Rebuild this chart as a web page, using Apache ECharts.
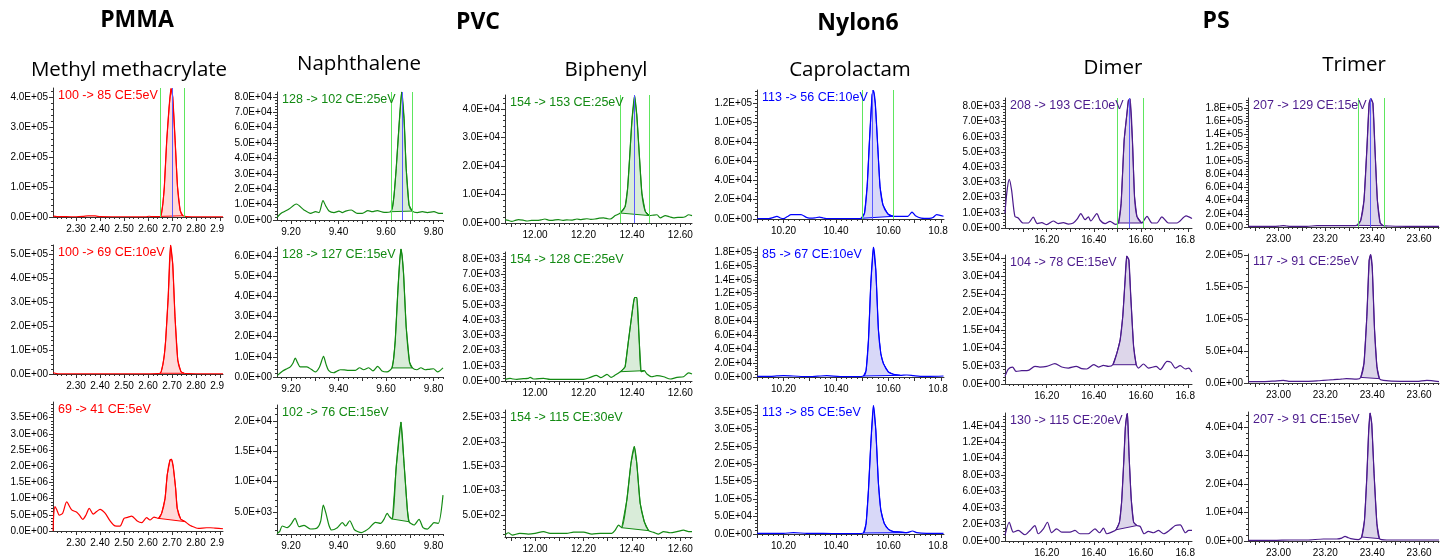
<!DOCTYPE html>
<html>
<head>
<meta charset="utf-8">
<title>MRM chromatograms</title>
<script src="https://cdn.jsdelivr.net/npm/echarts@6.0.0/dist/echarts.min.js"></script>
<style>
html,body{margin:0;padding:0;background:#fff;}
#chart{width:1448px;height:558px;}
</style>
</head>
<body>
<div id="chart"></div>
<script>
// ---- headings ----
var polymers = ['PMMA', 'PVC', 'Nylon6', 'PS'];
var compounds = ['Methyl methacrylate', 'Naphthalene', 'Biphenyl', 'Caprolactam', 'Dimer', 'Trimer'];
var transitions = [
    ['100 -> 85 CE:5eV', '100 -> 69 CE:10eV', '69 -> 41 CE:5eV'],
    ['128 -> 102 CE:25eV', '128 -> 127 CE:15eV', '102 -> 76 CE:15eV'],
    ['154 -> 153 CE:25eV', '154 -> 128 CE:25eV', '154 -> 115 CE:30eV'],
    ['113 -> 56 CE:10eV', '85 -> 67 CE:10eV', '113 -> 85 CE:5eV'],
    ['208 -> 193 CE:10eV', '104 -> 78 CE:15eV', '130 -> 115 CE:20eV'],
    ['207 -> 129 CE:15eV', '117 -> 91 CE:25eV', '207 -> 91 CE:15eV']
];

// ---- axes (retention time, intensity) ----
var xRange = [[2.204, 2.9125], [9.141, 9.84], [11.876, 12.648], [10.099, 10.812], [16.023, 16.817], [22.87, 23.685]];
var xLabels = [
    [2.3, 2.4, 2.5, 2.6, 2.7, 2.8, 2.9],
    [9.2, 9.4, 9.6, 9.8],
    [12.0, 12.2, 12.4, 12.6],
    [10.2, 10.4, 10.6, 10.8],
    [16.2, 16.4, 16.6, 16.8],
    [23.0, 23.2, 23.4, 23.6]
];
var yRange = [
    [[0, 4.3e5], [0, 5.4e5], [0, 3.98e6]],
    [[0, 8.32e4], [0, 6.45e4], [1393, 2.26e4]],
    [[0, 4.5e4], [0, 8480], [50, 2650]],
    [[0, 1.337e5], [0, 1.872e5], [0, 3.7e5]],
    [[0, 8560], [0, 35900], [0, 15560]],
    [[0, 1.95e5], [0, 2.02e5], [0, 4.53e4]]
];
var yLabels = [
    [[0, 1e5, 2e5, 3e5, 4e5], [0, 1e5, 2e5, 3e5, 4e5, 5e5], [0, 5e5, 1e6, 1.5e6, 2e6, 2.5e6, 3e6, 3.5e6]],
    [[0, 1e4, 2e4, 3e4, 4e4, 5e4, 6e4, 7e4, 8e4], [0, 1e4, 2e4, 3e4, 4e4, 5e4, 6e4], [5e3, 1e4, 1.5e4, 2e4]],
    [[0, 1e4, 2e4, 3e4, 4e4], [0, 1e3, 2e3, 3e3, 4e3, 5e3, 6e3, 7e3, 8e3], [500, 1000, 1500, 2000, 2500]],
    [[0, 2e4, 4e4, 6e4, 8e4, 1e5, 1.2e5], [0, 2e4, 4e4, 6e4, 8e4, 1e5, 1.2e5, 1.4e5, 1.6e5, 1.8e5], [0, 5e4, 1e5, 1.5e5, 2e5, 2.5e5, 3e5, 3.5e5]],
    [[0, 1e3, 2e3, 3e3, 4e3, 5e3, 6e3, 7e3, 8e3], [0, 5e3, 1e4, 1.5e4, 2e4, 2.5e4, 3e4, 3.5e4], [0, 2e3, 4e3, 6e3, 8e3, 1e4, 1.2e4, 1.4e4]],
    [[0, 2e4, 4e4, 6e4, 8e4, 1e5, 1.2e5, 1.4e5, 1.6e5, 1.8e5], [0, 5e4, 1e5, 1.5e5, 2e5], [0, 1e4, 2e4, 3e4, 4e4]]
];

// ---- chromatograms [time, intensity] ----
var p11 = [[2.205,3000],[2.22,1500],[2.26,1000],[2.30,800],[2.33,2000],[2.35,3500],[2.38,3500],[2.40,1200],[2.45,800],[2.50,800],[2.55,700],[2.59,900],[2.605,2500],[2.62,1000],[2.645,1200],[2.652,2000],[2.656,11000],[2.662,45000],[2.668,100000],[2.678,255000],[2.688,367000],[2.696,428000],[2.703,400000],[2.713,255000],[2.723,100000],[2.734,22000],[2.745,4000],[2.76,1500],[2.80,800],[2.85,600],[2.9125,500]];
var p21 = [[2.205,6000],[2.212,3000],[2.225,800],[2.26,600],[2.30,500],[2.35,600],[2.40,500],[2.45,500],[2.50,600],[2.55,500],[2.60,800],[2.64,1200],[2.65,3000],[2.655,10000],[2.662,40000],[2.668,80000],[2.6735,140000],[2.684,320000],[2.694,540000],[2.703,460000],[2.7125,240000],[2.724,58000],[2.737,10000],[2.75,3000],[2.77,1500],[2.80,1000],[2.85,800],[2.9125,800]];
var p31 = [[2.2045,0],[2.207,500000],[2.2124,750000],[2.22,650000],[2.23,490000],[2.2444,550000],[2.261,900000],[2.282,650000],[2.303,580000],[2.315,480000],[2.328,360000],[2.342,500000],[2.355,700000],[2.372,520000],[2.386,600000],[2.40,670000],[2.421,550000],[2.442,310000],[2.462,160000],[2.483,150000],[2.50,390000],[2.515,420000],[2.532,460000],[2.555,310000],[2.574,260000],[2.594,410000],[2.608,340000],[2.625,430000],[2.643,390000],[2.657,550000],[2.671,1000000],[2.68,1730000],[2.6915,2190000],[2.698,2210000],[2.705,1990000],[2.715,1320000],[2.7217,700000],[2.736,370000],[2.754,290000],[2.768,210000],[2.782,150000],[2.8095,80000],[2.844,100000],[2.86,100000],[2.879,90000],[2.9125,70000]];

var p12 = [[9.1415,1500],[9.1465,2600],[9.163,4800],[9.1916,7100],[9.2223,10400],[9.2547,6500],[9.2825,4300],[9.3036,5400],[9.3178,4800],[9.3347,12600],[9.3457,9300],[9.36,5800],[9.381,4800],[9.402,5800],[9.416,4800],[9.43,5800],[9.454,6500],[9.479,4300],[9.50,4300],[9.524,6100],[9.542,5400],[9.563,6100],[9.592,5000],[9.62,5400],[9.627,8000],[9.634,16200],[9.643,33500],[9.655,61700],[9.666,83300],[9.676,66000],[9.685,33500],[9.697,9700],[9.711,5800],[9.732,4800],[9.753,5400],[9.774,4800],[9.802,5400],[9.823,4300],[9.84,4300]];
var p22 = [[9.1415,800],[9.148,1300],[9.165,3000],[9.183,4100],[9.197,5000],[9.208,6800],[9.218,9400],[9.228,7000],[9.239,5000],[9.267,5000],[9.285,3800],[9.302,2500],[9.32,5000],[9.337,10200],[9.347,6500],[9.358,3300],[9.379,2100],[9.395,3000],[9.408,3600],[9.425,3500],[9.443,3300],[9.471,3300],[9.489,4600],[9.506,3600],[9.527,4600],[9.545,3000],[9.565,5300],[9.583,3000],[9.604,2500],[9.625,4500],[9.632,9000],[9.639,18200],[9.65,42900],[9.658,58000],[9.663,63500],[9.668,60000],[9.674,51200],[9.685,24800],[9.699,7400],[9.711,4500],[9.73,3600],[9.747,4600],[9.765,3600],[9.78,3800],[9.80,4100],[9.817,2500],[9.84,4500]];
var p32 = [[9.1415,1500],[9.152,1770],[9.163,2705],[9.184,2430],[9.2,3000],[9.217,3970],[9.234,2590],[9.255,2820],[9.2825,2213],[9.311,2430],[9.325,3500],[9.336,6150],[9.349,4510],[9.36,2800],[9.371,2050],[9.395,2430],[9.416,3250],[9.43,2705],[9.447,3570],[9.466,2160],[9.48,1800],[9.497,1610],[9.512,1900],[9.528,2320],[9.556,3310],[9.577,3150],[9.592,3850],[9.605,4780],[9.615,4230],[9.627,3850],[9.643,12430],[9.663,19800],[9.676,12980],[9.69,5330],[9.697,3410],[9.718,2870],[9.739,3800],[9.756,2430],[9.774,2210],[9.79,2800],[9.802,3250],[9.82,3150],[9.84,7790]];

var p13 = [[11.876,1200],[11.89,900],[11.904,600],[11.918,900],[11.931,1200],[11.95,1000],[11.966,700],[11.985,900],[12.007,900],[12.025,1100],[12.041,1400],[12.055,1000],[12.069,900],[12.083,1100],[12.096,1200],[12.115,900],[12.131,1100],[12.15,1000],[12.173,1400],[12.19,1200],[12.214,1500],[12.23,1300],[12.248,1400],[12.265,1700],[12.283,1800],[12.30,1500],[12.31,1400],[12.331,2600],[12.352,3500],[12.372,5800],[12.382,12000],[12.39,22200],[12.40,36000],[12.411,44700],[12.42,38000],[12.4275,28100],[12.441,10500],[12.455,4100],[12.473,2600],[12.49,2800],[12.5035,2900],[12.517,1800],[12.538,2600],[12.555,2200],[12.572,1800],[12.59,2000],[12.607,2000],[12.62,2200],[12.634,2900],[12.648,2600]];
var p23 = [[11.876,110],[11.897,175],[11.91,130],[11.925,110],[11.952,150],[11.97,170],[11.98,240],[11.99,150],[12.00,130],[12.035,175],[12.062,110],[12.104,110],[12.159,110],[12.20,110],[12.228,240],[12.253,370],[12.272,220],[12.297,440],[12.314,240],[12.331,390],[12.352,610],[12.365,800],[12.372,940],[12.386,2690],[12.404,4870],[12.411,5490],[12.42,5490],[12.43,2690],[12.438,610],[12.451,680],[12.462,460],[12.482,280],[12.503,350],[12.531,280],[12.558,130],[12.586,240],[12.613,280],[12.634,540],[12.648,460]];
var p33 = [[11.876,90],[11.89,137],[11.906,90],[11.937,125],[11.972,110],[12.00,125],[12.035,160],[12.062,125],[12.131,125],[12.159,150],[12.20,150],[12.235,110],[12.27,125],[12.317,125],[12.331,190],[12.345,295],[12.358,240],[12.379,807],[12.396,1560],[12.41,1900],[12.42,1560],[12.434,740],[12.451,363],[12.469,180],[12.49,145],[12.51,110],[12.531,160],[12.558,137],[12.586,160],[12.613,190],[12.634,160],[12.648,160]];

var p14 = [[10.1,300],[10.125,300],[10.143,300],[10.16,1500],[10.175,2800],[10.188,1000],[10.20,300],[10.215,2500],[10.229,4500],[10.25,4500],[10.267,4500],[10.285,2000],[10.299,1000],[10.32,1200],[10.337,2000],[10.352,1000],[10.369,300],[10.413,300],[10.464,300],[10.496,700],[10.509,6200],[10.519,33800],[10.528,82000],[10.538,128600],[10.543,133000],[10.55,120000],[10.56,72000],[10.568,33800],[10.579,14800],[10.598,5200],[10.619,2800],[10.648,2800],[10.674,2800],[10.69,7200],[10.703,3400],[10.725,1000],[10.756,700],[10.77,1500],[10.784,4500],[10.81,2800]];
var p24 = [[10.1,1000],[10.149,1000],[10.175,1500],[10.20,1900],[10.238,1450],[10.289,500],[10.33,1200],[10.365,1900],[10.416,500],[10.48,500],[10.505,1450],[10.515,9600],[10.524,53000],[10.533,135000],[10.543,187000],[10.552,154000],[10.562,67500],[10.571,33800],[10.581,19300],[10.60,7200],[10.619,3900],[10.645,2400],[10.67,2900],[10.696,1900],[10.721,1000],[10.759,1000],[10.81,1450]];
var p34 = [[10.1,1900],[10.162,1900],[10.20,1900],[10.238,3800],[10.289,1900],[10.352,1900],[10.416,1000],[10.48,1000],[10.505,2900],[10.515,30600],[10.524,126000],[10.533,260000],[10.543,368000],[10.552,298000],[10.562,145000],[10.571,69000],[10.584,30600],[10.60,13400],[10.619,6700],[10.645,5700],[10.67,3800],[10.692,8600],[10.708,3800],[10.746,1900],[10.81,1900]];

var p15 = [[16.0226,950],[16.032,2490],[16.041,3200],[16.051,2490],[16.065,770],[16.079,660],[16.10,330],[16.122,330],[16.143,710],[16.16,290],[16.179,350],[16.20,220],[16.228,460],[16.249,290],[16.271,350],[16.292,260],[16.313,330],[16.33,600],[16.345,950],[16.363,550],[16.377,730],[16.387,460],[16.413,950],[16.427,510],[16.448,290],[16.469,440],[16.491,240],[16.505,330],[16.516,1610],[16.529,5800],[16.541,7570],[16.547,8410],[16.554,8500],[16.564,5800],[16.573,2050],[16.583,770],[16.604,330],[16.626,770],[16.647,330],[16.668,330],[16.689,730],[16.717,330],[16.753,330],[16.792,800],[16.817,620]];
var p25 = [[16.023,2130],[16.037,4170],[16.055,4720],[16.07,3520],[16.094,3700],[16.122,3800],[16.15,4910],[16.171,4720],[16.20,4910],[16.235,5650],[16.264,4720],[16.292,4440],[16.325,4910],[16.349,4260],[16.37,4170],[16.40,5370],[16.42,4720],[16.441,5190],[16.462,4910],[16.481,5370],[16.498,8600],[16.512,12300],[16.523,18800],[16.533,29000],[16.54,35600],[16.549,34500],[16.557,24400],[16.569,10500],[16.58,5370],[16.59,4440],[16.611,5560],[16.632,4440],[16.665,4910],[16.682,3980],[16.711,6300],[16.728,6020],[16.746,4440],[16.767,5090],[16.789,4170],[16.803,4440],[16.817,3330]];
var p35 = [[16.023,680],[16.041,2280],[16.058,1080],[16.079,1280],[16.108,760],[16.129,1280],[16.15,1880],[16.164,880],[16.186,1480],[16.203,2280],[16.221,1000],[16.242,1480],[16.264,1080],[16.299,1080],[16.32,1280],[16.341,880],[16.377,880],[16.405,1480],[16.424,1000],[16.441,1560],[16.455,880],[16.476,1080],[16.494,1360],[16.509,2280],[16.518,4680],[16.527,9480],[16.534,13800],[16.54,15300],[16.543,15500],[16.55,10300],[16.559,5080],[16.569,2280],[16.583,1880],[16.597,1760],[16.614,880],[16.632,1160],[16.654,1000],[16.675,1280],[16.696,880],[16.724,1360],[16.746,1880],[16.767,1960],[16.789,1000],[16.803,1280],[16.817,1280]];

var p16 = [[22.872,1000],[22.979,1000],[23.005,1500],[23.021,2000],[23.035,1500],[23.05,1000],[23.121,1000],[23.164,2000],[23.235,2000],[23.29,2000],[23.334,2500],[23.351,10000],[23.365,40500],[23.377,116500],[23.387,187000],[23.394,194000],[23.403,187000],[23.412,116500],[23.422,40500],[23.434,6100],[23.448,2000],[23.476,1500],[23.548,1000],[23.618,1000],[23.685,1000]];
var p26 = [[22.872,2100],[22.936,2100],[22.98,3000],[23.021,4200],[23.05,2600],[23.121,2600],[23.17,3500],[23.192,4200],[23.235,5200],[23.265,6000],[23.29,6800],[23.334,6200],[23.351,8800],[23.365,31200],[23.377,104000],[23.387,192000],[23.393,201000],[23.40,182000],[23.41,83000],[23.42,26000],[23.431,6800],[23.448,4200],[23.519,2600],[23.59,2600],[23.633,4200],[23.685,2100]];
var p36 = [[22.872,230],[22.979,230],[23.05,350],[23.121,350],[23.192,700],[23.249,700],[23.27,1000],[23.284,1640],[23.296,1200],[23.308,820],[23.341,470],[23.355,1400],[23.367,7250],[23.377,22500],[23.385,38800],[23.391,44900],[23.398,41200],[23.408,23600],[23.42,6080],[23.431,820],[23.462,350],[23.548,350],[23.618,350],[23.685,350]];

var curves = [[p11, p21, p31], [p12, p22, p32], [p13, p23, p33], [p14, p24, p34], [p15, p25, p35], [p16, p26, p36]];

// integrated peak window (start, end) per panel
var peakWin = [
    [[2.652, 2.745], [2.65, 2.75], [2.643, 2.754]],
    [[9.62, 9.711], [9.625, 9.711], [9.627, 9.697]],
    [[12.352, 12.473], [12.352, 12.451], [12.358, 12.469]],
    [[10.496, 10.619], [10.505, 10.645], [10.505, 10.67]],
    [[16.505, 16.604], [16.481, 16.58], [16.494, 16.583]],
    [[23.334, 23.448], [23.351, 23.431], [23.355, 23.431]]
];
// retention window markers and apex, top row only
var rtWin = [[2.655, 2.753], [9.62, 9.71], [12.35, 12.466], [10.502, 10.622], [16.502, 16.607], [23.343, 23.45]];
var rtApex = [2.70, 9.667, 12.408, 10.544, 16.555, 23.395];

// ---- layout ----
var colLeft = [53, 277, 505, 757, 1005, 1248];
var colRight = [223, 443, 692, 944, 1192, 1439];
var rowTop = [[88, 245, 402], [92, 247, 405], [95, 252, 410], [90, 247, 405], [98, 255, 413], [98, 254, 412]];
var rowBot = [[217, 374, 531], [220, 377, 534], [223, 381, 537], [219, 377, 534], [228, 384, 542], [227, 383, 541]];
var lineColor = ['#ff0000', '#138a13', '#138a13', '#0000ff', '#4b1a8c', '#4b1a8c'];
var fillColor = ['#ffd9d9', '#d9ecd9', '#d9ecd9', '#d8d8f8', '#ddd6ea', '#ddd6ea'];
var clipLabel = {'2.90': '2.9  ', '10.80': '10.8  ', '16.80': '16.8  '};

function sci(v) {
    if (v === 0) return '0.0E+00';
    var e = Math.floor(Math.log10(Math.abs(v)) + 1e-9);
    var s = (v / Math.pow(10, e)).toFixed(1);
    if (s === '10.0') { s = '1.0'; e++; }
    return s + 'E' + (e < 0 ? '-' : '+') + (Math.abs(e) < 10 ? '0' : '') + Math.abs(e);
}

function buildOption() {
    var grids = [], xAxes = [], yAxes = [], series = [], graphics = [];
    var tickFont = {fontSize: 10, fontFamily: 'Liberation Sans', color: '#000'};
    var k = 0;
    for (var c = 0; c < 6; c++) {
        for (var r = 0; r < 3; r++) {
            var gTop = rowTop[c][r], gBot = rowBot[c][r];
            grids.push({left: colLeft[c], top: gTop, width: colRight[c] - colLeft[c], height: gBot - gTop});

            var xr = xRange[c], yr = yRange[c][r];
            var xMaj = [], xMin = [];
            for (var n = Math.ceil(xr[0] * 50 - 1e-6); n <= Math.floor(xr[1] * 50 + 1e-6); n++) {
                if (n % 5 === 0) xMaj.push(n / 50); else xMin.push(n / 50);
            }
            var yl = yLabels[c][r];
            var ystep = (yl[1] - yl[0]) / 5;
            var yMin = [];
            for (var m = Math.ceil(yr[0] / ystep - 1e-6); m <= Math.floor(yr[1] / ystep + 1e-6); m++) {
                if (m % 5 !== 0) yMin.push(m * ystep);
            }

            xAxes.push({
                type: 'value', gridIndex: k, min: xr[0], max: xr[1], position: 'bottom',
                axisLine: {onZero: false, lineStyle: {color: '#333', width: 1}},
                axisTick: {customValues: xMaj, length: 4, lineStyle: {color: '#333'}},
                axisLabel: Object.assign({customValues: xLabels[c], margin: 7,
                    formatter: function (v) { var s = v.toFixed(2); return clipLabel[s] || s; }}, tickFont),
                splitLine: {show: false}
            });
            xAxes.push({
                type: 'value', gridIndex: k, min: xr[0], max: xr[1], position: 'bottom',
                axisLine: {show: false, onZero: false},
                axisTick: {customValues: xMin, length: 2, lineStyle: {color: '#333'}},
                axisLabel: {show: false}, splitLine: {show: false}
            });
            yAxes.push({
                type: 'value', gridIndex: k, min: yr[0], max: yr[1], position: 'left',
                axisLine: {show: true, onZero: false, lineStyle: {color: '#333', width: 1}},
                axisTick: {show: true, customValues: yl, length: 4, lineStyle: {color: '#333'}},
                axisLabel: Object.assign({customValues: yl, margin: 5, formatter: sci}, tickFont),
                splitLine: {show: false}
            });
            yAxes.push({
                type: 'value', gridIndex: k, min: yr[0], max: yr[1], position: 'left',
                axisLine: {show: false, onZero: false},
                axisTick: {show: true, customValues: yMin, length: 2, lineStyle: {color: '#333'}},
                axisLabel: {show: false}, splitLine: {show: false}
            });

            var curve = curves[c][r];
            var fillSeries = {
                type: 'custom', xAxisIndex: 2 * k, yAxisIndex: 2 * k, clip: true, silent: true, z: 1,
                data: [peakWin[c][r]],
                renderItem: (function (pts, fc, lc) {
                    return function (params, api) {
                        var t0 = api.value(0), t1 = api.value(1), poly = [];
                        pts.forEach(function (p) {
                            if (p[0] >= t0 - 1e-9 && p[0] <= t1 + 1e-9) poly.push(api.coord(p));
                        });
                        return {type: 'polygon', shape: {points: poly},
                            style: {fill: fc, stroke: lc, lineWidth: 1}};
                    };
                })(curve, fillColor[c], lineColor[c])
            };
            var lineSeries = {
                type: 'line', xAxisIndex: 2 * k, yAxisIndex: 2 * k, data: curve,
                symbol: 'none', showSymbol: false, smooth: 0.25, z: 3,
                lineStyle: {color: lineColor[c], width: 1.2}
            };
            if (r === 0) {
                // retention window (green) on the fill series, apex (blue) on the trace
                fillSeries.markLine = {
                    silent: true, symbol: ['none', 'none'], label: {show: false},
                    lineStyle: {type: 'solid', width: 1, color: '#5ee65e'},
                    data: [{xAxis: rtWin[c][0]}, {xAxis: rtWin[c][1]}]
                };
                lineSeries.markLine = {
                    silent: true, symbol: ['none', 'none'], label: {show: false},
                    lineStyle: {type: 'solid', width: 1, color: '#5a5aff'},
                    data: [{xAxis: rtApex[c]}]
                };
            }
            series.push(fillSeries, lineSeries);

            graphics.push({
                type: 'text', x: colLeft[c] + 5, y: gTop + 8, z: 10,
                style: {text: transitions[c][r], fill: lineColor[c], font: '12.5px "Liberation Sans"',
                    align: 'left', verticalAlign: 'middle'}
            });
            k++;
        }
    }

    // polymer headings and compound names
    var polyX = [137, 478, 858, 1216], polyY = [20, 22, 23, 21];
    polymers.forEach(function (p, i) {
        graphics.push({type: 'text', x: polyX[i], y: polyY[i],
            style: {text: p, fill: '#000', font: 'bold 23px "Open Sans"', align: 'center', verticalAlign: 'middle'}});
    });
    var compX = [129, 359, 606, 850, 1113, 1354], compY = [70, 64, 70, 70, 68, 65];
    compounds.forEach(function (t, i) {
        graphics.push({type: 'text', x: compX[i], y: compY[i],
            style: {text: t, fill: '#000', font: '20.5px "Open Sans"', align: 'center', verticalAlign: 'middle'}});
    });

    return {
        animation: false,
        backgroundColor: '#fff',
        grid: grids,
        xAxis: xAxes,
        yAxis: yAxes,
        series: series,
        graphic: graphics
    };
}

var chart = echarts.init(document.getElementById('chart'));
chart.setOption(buildOption());
</script>
</body>
</html>
